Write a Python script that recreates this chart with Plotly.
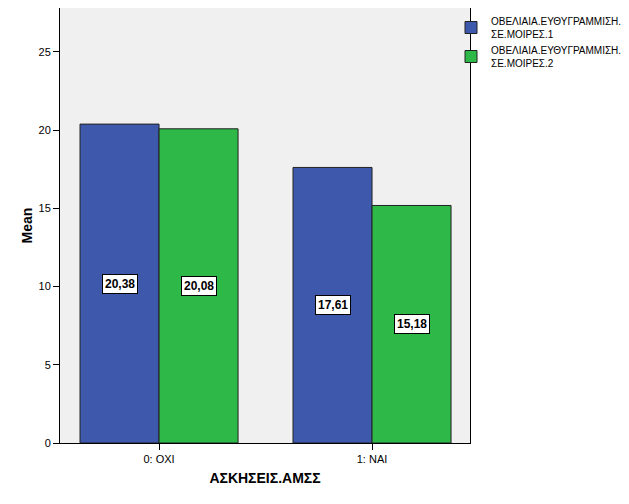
import plotly.graph_objects as go

categories = ["0: ΟΧΙ", "1: ΝΑΙ"]
series_names = ["ΟΒΕΛΙΑΙΑ.ΕΥΘΥΓΡΑΜΜΙΣΗ.<br>ΣΕ.ΜΟΙΡΕΣ.1", "ΟΒΕΛΙΑΙΑ.ΕΥΘΥΓΡΑΜΜΙΣΗ.<br>ΣΕ.ΜΟΙΡΕΣ.2"]
series1 = [20.38, 17.61]
series2 = [20.08, 15.18]
colors = ["#3e58ac", "#2eb848"]

xpos = list(range(len(categories)))
bargap = 0.258
bw = (1 - bargap) / 2

fig = go.Figure()
for name, vals, col in zip(series_names, [series1, series2], colors):
    fig.add_trace(go.Bar(x=xpos, y=vals, name=name, marker=dict(color=col, line=dict(color="#222222", width=1))))

annotations = []
for i, vals in enumerate([series1, series2]):
    off = (i - 0.5) * bw
    for xi, v in zip(xpos, vals):
        annotations.append(dict(x=xi + off, y=v / 2, text="<b>" + f"{v:.2f}".replace(".", ",") + "</b>",
                                showarrow=False, bgcolor="white", bordercolor="black", borderwidth=1,
                                borderpad=2, font=dict(size=12, color="black", family="Liberation Sans")))

W, H = 621, 496
fig.update_layout(
    width=W, height=H,
    margin=dict(l=52, r=159, t=0, b=61, autoexpand=False),
    barmode="group", bargap=bargap, bargroupgap=0,
    plot_bgcolor="#f0f0f0", paper_bgcolor="white",
    font=dict(family="Liberation Sans", size=11, color="black"),
    annotations=annotations,
    legend=dict(xref="container", yref="container", x=443 / W, y=1 + 6 / H,
                xanchor="left", yanchor="top",
                font=dict(size=10, family="Liberation Sans"),
                tracegroupgap=0, itemwidth=30, bgcolor="rgba(0,0,0,0)"),
    xaxis=dict(tickmode="array", tickvals=xpos, ticktext=categories, range=[-0.465, 1.46],
               showgrid=False, zeroline=False, ticks="outside", ticklen=6, tickcolor="black",
               showline=True, linecolor="black", mirror=True, linewidth=1, automargin=False,
               title=dict(text="<b>ΑΣΚΗΣΕΙΣ.ΑΜΣΣ</b>", font=dict(size=14), standoff=8)),
    yaxis=dict(range=[0, 27.8], tickvals=[0, 5, 10, 15, 20, 25], showgrid=False, zeroline=False,
               ticks="outside", ticklen=6, tickcolor="black", showline=True, linecolor="black",
               mirror=True, linewidth=1, automargin=False,
               title=dict(text="<b>Mean</b>", font=dict(size=14), standoff=2)),
)

fig.write_html("out.html")
